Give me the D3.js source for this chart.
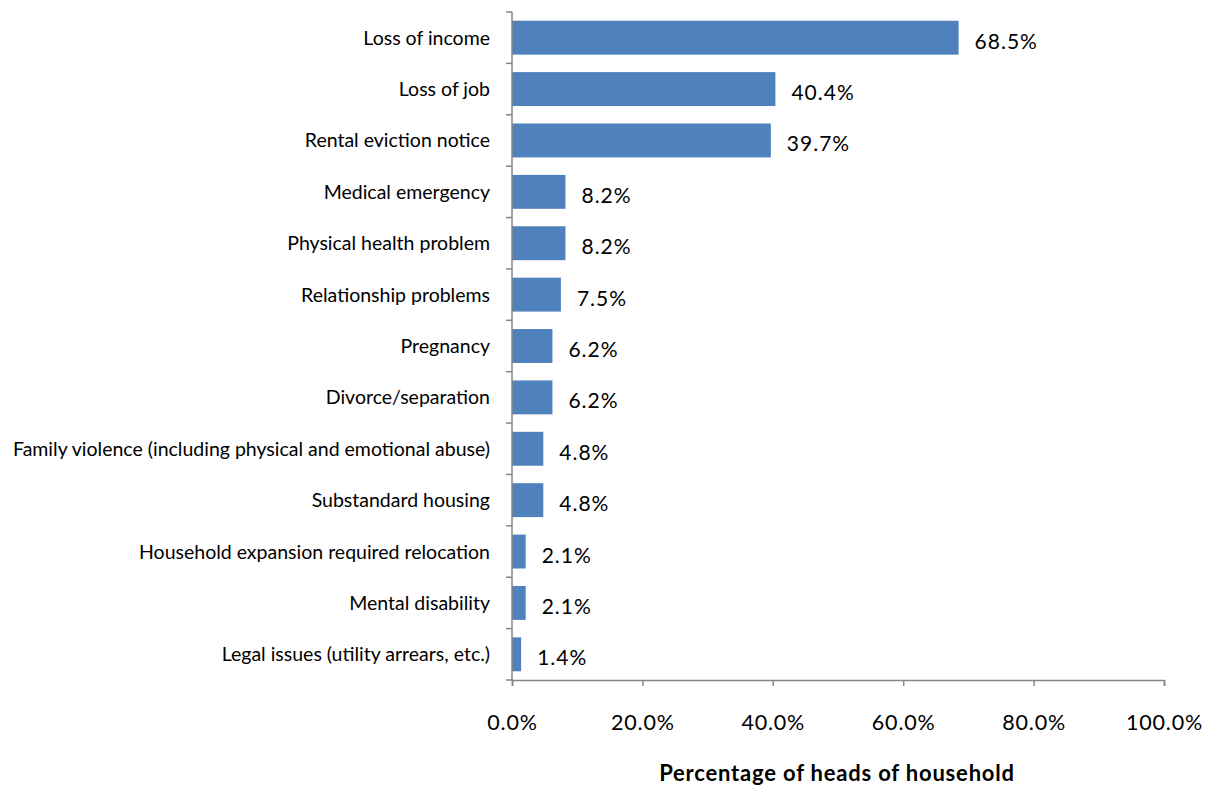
<!DOCTYPE html>
<html>
<head>
<meta charset="utf-8">
<script src="https://cdn.jsdelivr.net/npm/d3@7"></script>
<style>
  html, body { margin: 0; padding: 0; background: #fff; }
  svg { display: block; font-family: Lato, "Open Sans", sans-serif; }
</style>
</head>
<body>
<svg id="chart" width="1212" height="786"></svg>
<script>
// Reasons reported by heads of household
const categories = [
  "Loss of income",
  "Loss of job",
  "Rental eviction notice",
  "Medical emergency",
  "Physical health problem",
  "Relationship problems",
  "Pregnancy",
  "Divorce/separation",
  "Family violence (including physical and emotional abuse)",
  "Substandard housing",
  "Household expansion required relocation",
  "Mental disability",
  "Legal issues (utility arrears, etc.)"
];
const values = [68.5, 40.4, 39.7, 8.2, 8.2, 7.5, 6.2, 6.2, 4.8, 4.8, 2.1, 2.1, 1.4];
const xTicks = [0, 20, 40, 60, 80, 100];
const xTitle = "Percentage of heads of household";

const svg = d3.select("#chart");
const plotLeft = 512, plotRight = 1164, plotTop = 12, plotBottom = 680;

const x = d3.scaleLinear().domain([0, 100]).range([plotLeft, plotRight]);
const y = d3.scaleBand().domain(categories).range([plotTop, plotBottom]).paddingInner(0.34).paddingOuter(0.17);

const axisColor = "#868686";

// Bars
svg.append("g").selectAll("rect")
  .data(values)
  .join("rect")
  .attr("x", x(0))
  .attr("y", (d, i) => y(categories[i]))
  .attr("width", d => x(d) - x(0))
  .attr("height", y.bandwidth())
  .attr("fill", "#4F81BD");

// Value labels
svg.append("g").selectAll("text")
  .data(values)
  .join("text")
  .attr("x", d => x(d) + 16)
  .attr("y", (d, i) => y(categories[i]) + y.bandwidth() / 2 + 11)
  .attr("font-size", 21)
  .attr("letter-spacing", 1)
  .attr("fill", "#000")
  .text(d => d.toFixed(1) + "%");

// Category axis (left)
const catStep = (plotBottom - plotTop) / categories.length;
const gy = svg.append("g");
gy.append("line").attr("x1", plotLeft).attr("x2", plotLeft).attr("y1", plotTop).attr("y2", plotBottom)
  .attr("stroke", axisColor).attr("stroke-width", 1.5);
gy.selectAll("line.tick")
  .data(d3.range(categories.length + 1))
  .join("line")
  .attr("class", "tick")
  .attr("x1", plotLeft - 6).attr("x2", plotLeft)
  .attr("y1", i => plotTop + i * catStep).attr("y2", i => plotTop + i * catStep)
  .attr("stroke", axisColor).attr("stroke-width", 1.5);
gy.selectAll("text")
  .data(categories)
  .join("text")
  .attr("x", plotLeft - 22)
  .attr("y", d => y(d) + y.bandwidth() / 2 + 7)
  .attr("text-anchor", "end")
  .attr("font-size", 19.5)
  .attr("fill", "#000")
  .text(d => d);

// Value axis (bottom)
const xAxis = d3.axisBottom(x)
  .tickValues(xTicks)
  .tickSize(6)
  .tickFormat(d => d.toFixed(1) + "%");
const gx = svg.append("g").attr("transform", `translate(0,${plotBottom})`).call(xAxis);
gx.select(".domain").attr("stroke", axisColor).attr("stroke-width", 1.5);
gx.selectAll(".tick line").attr("stroke", axisColor).attr("stroke-width", 1.5);
gx.selectAll(".tick text")
  .attr("y", 50)
  .attr("dy", 0)
  .attr("font-size", 21.5)
  .attr("letter-spacing", 0.8)
  .attr("font-family", "Lato, 'Open Sans', sans-serif")
  .attr("fill", "#000");

// Axis title
svg.append("text")
  .attr("x", (plotLeft + plotRight) / 2 - 1)
  .attr("y", 781)
  .attr("text-anchor", "middle")
  .attr("font-size", 22)
  .attr("letter-spacing", 0.8)
  .attr("font-weight", "bold")
  .attr("fill", "#000")
  .text(xTitle);
</script>
</body>
</html>
